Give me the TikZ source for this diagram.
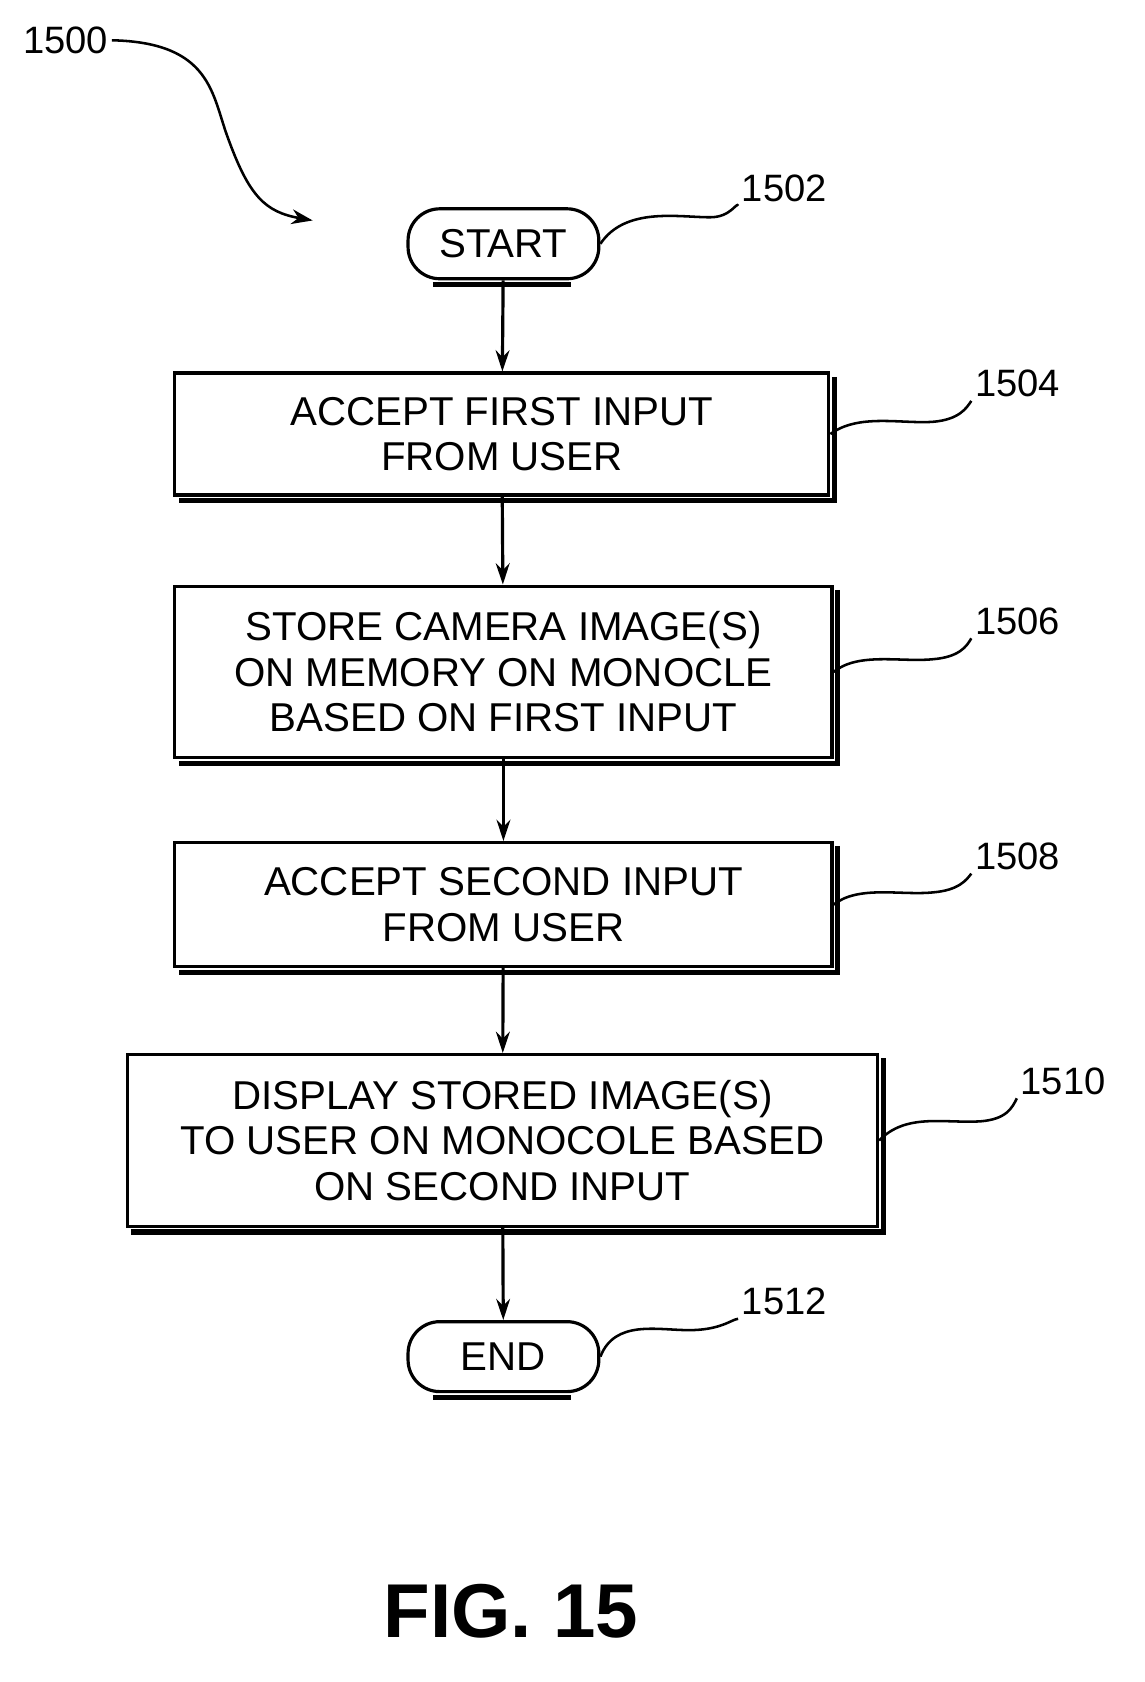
\documentclass[tikz,border=0pt]{standalone}
\usepackage{fontspec}
\setmainfont{Liberation Sans}
\usetikzlibrary{arrows.meta}
\begin{document}
\begin{tikzpicture}[x=1pt,y=-1pt,
  box/.style={draw,line width=3pt,align=center,font=\fontsize{38}{43}\selectfont,inner sep=0pt},
  term/.style={draw,line width=3pt,rounded corners=30pt,font=\fontsize{38}{43}\selectfont,minimum width=180pt,minimum height=66pt},
  shadow/.style={line width=5pt},
  lbl/.style={font=\fontsize{36}{40}\selectfont},
  lead/.style={line width=2.4pt},
  arr/.style={line width=3pt,-{Stealth[length=20pt,width=13pt]}}]
\useasboundingbox (0,0) rectangle (1080,1587);
\node[term] (start) at (475,230) {START};
\node[box,minimum width=617pt,minimum height=115pt] (b1) at (473.5,409.5) {ACCEPT FIRST INPUT\\FROM USER};
\node[box,minimum width=620pt,minimum height=162pt] (b2) at (475,634) {STORE CAMERA IMAGE(S)\\ON MEMORY ON MONOCLE\\BASED ON FIRST INPUT};
\node[box,minimum width=620pt,minimum height=117pt] (b3) at (475,853.5) {ACCEPT SECOND INPUT\\FROM USER};
\node[box,minimum width=708pt,minimum height=162pt] (b4) at (474,1076) {DISPLAY STORED IMAGE(S)\\TO USER ON MONOCOLE BASED\\ON SECOND INPUT};
\node[term] (end) at (475,1280) {END};
\foreach \n in {b1,b2,b3,b4}{
  \draw[shadow] ([xshift=4pt,yshift=-5pt]\n.north east) -- ([xshift=4pt,yshift=-4pt]\n.south east) -- ([xshift=5pt,yshift=-4pt]\n.south west);}
\draw[shadow] ([yshift=-4pt]start.south west) ++(25,0) -- ++(130,0);
\draw[shadow] ([yshift=-4pt]end.south west) ++(25,0) -- ++(130,0);
\draw[arr] (start) -- (b1);
\draw[arr] (b1) -- (b2);
\draw[arr] (b2) -- (b3);
\draw[arr] (b3) -- (b4);
\draw[arr] (b4) -- (end);
\node[lbl] (l0) at (62,38) {1500};
\node[lbl] (l1) at (740,178) {1502};
\node[lbl] (l2) at (960,362) {1504};
\node[lbl] (l3) at (960,586) {1506};
\node[lbl] (l4) at (960,808) {1508};
\node[lbl] (l5) at (1003,1020) {1510};
\node[lbl] (l6) at (740,1228) {1512};
\coordinate (a0) at (295,208);
\draw[lead,-{Stealth[length=20pt,width=14pt]}] (l0.east) .. controls (200,40) and (200,90) .. (215,130) .. controls (235,185) and (250,200) .. (a0);
\draw[lead] (start.east) .. controls (590,195) and (640,205) .. (670,205) .. controls (690,205) and (695,190) .. (l1.south west);
\draw[lead] (b1.east) .. controls (810,390) and (850,400) .. (880,398) .. controls (905,396) and (912,385) .. (l2.south west);
\draw[lead] (b2.east) .. controls (810,615) and (850,625) .. (880,622) .. controls (905,620) and (912,610) .. (l3.south west);
\draw[lead] (b3.east) .. controls (810,835) and (850,845) .. (880,842) .. controls (905,840) and (912,830) .. (l4.south west);
\draw[lead] (b4.east) .. controls (855,1050) and (890,1060) .. (925,1058) .. controls (950,1056) and (955,1045) .. (l5.south west);
\draw[lead] (end.east) .. controls (580,1245) and (620,1255) .. (650,1255) .. controls (680,1255) and (690,1245) .. (l6.south west);
\node[font=\bfseries\fontsize{72}{80}\selectfont] (fig) at (482,1520) {FIG. 15};
\end{tikzpicture}
\end{document}
